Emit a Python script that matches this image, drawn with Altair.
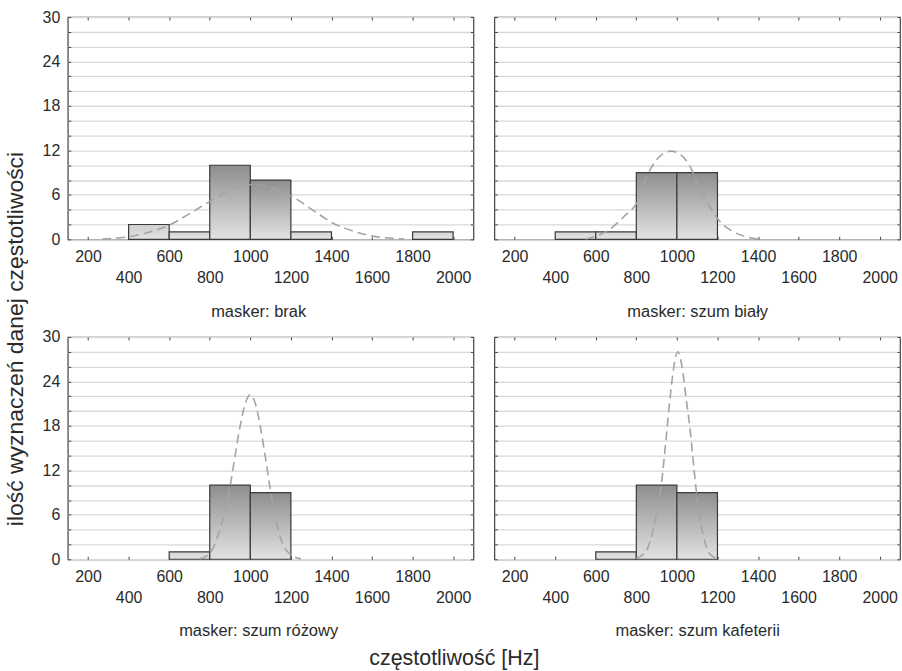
import altair as alt
import pandas as pd

# ---------------- data ----------------
bin_start = [200, 400, 600, 800, 1000, 1200, 1400, 1600, 1800]
bin_end = [400, 600, 800, 1000, 1200, 1400, 1600, 1800, 2000]

counts_brak = [0, 2, 1, 10, 8, 1, 0, 0, 1]
counts_bialy = [0, 1, 1, 9, 9, 0, 0, 0, 0]
counts_rozowy = [0, 0, 1, 10, 9, 0, 0, 0, 0]
counts_kafeteria = [0, 0, 1, 10, 9, 0, 0, 0, 0]

# fitted normal curves (dashed)
curve_brak_x = [270, 400, 500, 603, 690, 800, 904, 1020, 1085, 1204, 1316, 1406, 1514, 1612, 1760]
curve_brak_y = [0.05, 0.35, 0.95, 1.95, 3.3, 5.1, 6.7, 7.4, 7.1, 5.8, 3.8, 2.2, 1.05, 0.4, 0.05]

curve_bialy_x = [550, 674, 740, 801, 855, 905, 970, 1020, 1069, 1118, 1167, 1206, 1267, 1349, 1400]
curve_bialy_y = [0.05, 1.45, 3.1, 4.9, 8.7, 10.9, 11.9, 11.4, 9.6, 6.5, 4.2, 2.6, 1.2, 0.3, 0.05]

curve_rozowy_x = [750, 800, 850, 875, 900, 925, 950, 975, 1000, 1025, 1050, 1075, 1100, 1125, 1150, 1200, 1250]
curve_rozowy_y = [0.05, 0.8, 4.0, 6.5, 9.8, 14.0, 18.0, 21.0, 22.2, 21.0, 17.8, 13.6, 9.2, 5.5, 2.8, 0.6, 0.05]

curve_kafeteria_x = [800, 850, 880, 905, 925, 945, 965, 985, 1005, 1025, 1045, 1065, 1085, 1105, 1130, 1160, 1200]
curve_kafeteria_y = [0.1, 1.2, 3.6, 7.0, 10.5, 15.8, 21.4, 26.0, 28.0, 26.0, 21.8, 17.5, 12.0, 7.0, 3.2, 0.8, 0.05]

subtitles = ["masker: brak", "masker: szum biały", "masker: szum różowy", "masker: szum kafeterii"]
x_tick_values = [200, 400, 600, 800, 1000, 1200, 1400, 1600, 1800, 2000]
y_tick_values = list(range(0, 31, 2))
x_title = "częstotliwość [Hz]"
y_title = "ilość wyznaczeń danej częstotliwości"

# ---------------- styling ----------------
FONT = "Liberation Sans"
TXT = "#2a2a2a"
W, H = 407, 223


def grad(top):
    return {
        "gradient": "linear", "x1": 0, "y1": 0, "x2": 0, "y2": 1,
        "stops": [{"offset": 0, "color": top}, {"offset": 1, "color": "#e3e3e3"}],
    }


def panel(counts, cx, cy, subtitle, first_col):
    bars_df = pd.DataFrame({"start": bin_start, "end": bin_end, "count": counts})
    curve_df = pd.DataFrame({"x": cx, "y": cy})
    xscale = alt.Scale(domain=[100, 2100], nice=False, zero=False)
    yscale = alt.Scale(domain=[0, 30], nice=False)

    x_axis_kw = dict(
        values=x_tick_values, title=subtitle, grid=False, domain=False, format="d",
        offset=-3, tickSize=3, tickColor="#444", labelFont=FONT, labelFontSize=16,
        labelColor=TXT, labelOverlap=False, labelFlush=False,
        labelPadding={"condition": {"test": "datum.value % 400 == 0", "value": 30}, "value": 9},
        titleFont=FONT, titleFontSize=16.5, titleFontWeight="normal", titleColor=TXT,
        titlePadding=18,
    )
    if first_col:
        x_axis_kw["titleX"] = 191
    x_axis = alt.Axis(**x_axis_kw)

    y_axis = alt.Axis(
        values=y_tick_values, title=None, grid=True, gridColor="#d9d9d9", gridWidth=1.3,
        domain=False, offset=-3, tickSize=3, tickColor="#444",
        labels=first_col, labelExpr="datum.value % 6 == 0 ? datum.label : ''",
        labelFont=FONT, labelFontSize=16, labelColor=TXT, labelPadding=8,
    )
    x_axis_top = alt.Axis(orient="top", values=x_tick_values, title=None, labels=False,
                          grid=False, domain=False, offset=-3, tickSize=3, tickColor="#444")
    y_axis_right = alt.Axis(orient="right", values=y_tick_values, title=None, labels=False,
                            grid=False, domain=False, offset=-3, tickSize=3, tickColor="#444")

    fill = (
        alt.when("datum.count >= 5").then(alt.value(grad("#8e8e8e")))
        .when("datum.count >= 2").then(alt.value(grad("#cdcdcd")))
        .otherwise(alt.value(grad("#d6d6d6")))
    )

    bars = alt.Chart(bars_df).transform_filter("datum.count > 0").mark_rect(
        stroke="#3a3a3a", strokeWidth=1.2
    ).encode(
        x=alt.X("start:Q", scale=xscale, axis=x_axis),
        x2="end:Q",
        y=alt.Y("count:Q", scale=yscale, axis=y_axis),
        y2=alt.datum(0),
        fill=fill,
    )
    curve = alt.Chart(curve_df).mark_line(
        color="#a4a4a4", strokeDash=[9, 5], strokeWidth=1.6, interpolate="monotone"
    ).encode(
        x=alt.X("x:Q", scale=xscale, axis=x_axis_top),
        y=alt.Y("y:Q", scale=yscale, axis=y_axis_right),
    )
    return alt.layer(bars, curve).resolve_axis(x="independent", y="independent").properties(
        width=W, height=H
    )


p1 = panel(counts_brak, curve_brak_x, curve_brak_y, subtitles[0], True)
p2 = panel(counts_bialy, curve_bialy_x, curve_bialy_y, subtitles[1], False)
p3 = panel(counts_rozowy, curve_rozowy_x, curve_rozowy_y, subtitles[2], True)
p4 = panel(counts_kafeteria, curve_kafeteria_x, curve_kafeteria_y, subtitles[3], False)

row1 = alt.hconcat(p1, p2, spacing=17)
row2 = alt.hconcat(p3, p4, spacing=17)

inner = alt.vconcat(row1, row2, spacing=7).properties(
    title=alt.TitleParams(x_title, orient="bottom", anchor="middle", font=FONT, fontSize=21.5,
                          fontWeight="normal", color=TXT, offset=8, dx=-17)
)

chart = alt.hconcat(inner).properties(
    title=alt.TitleParams(y_title, orient="left", anchor="middle", font=FONT, fontSize=23,
                          fontWeight="normal", color=TXT, offset=14),
    padding={"left": 4, "top": 7, "right": 0, "bottom": 0},
).configure_view(stroke="#404040", strokeWidth=1.2).configure_concat(spacing=0)

chart.save("out.html", embed_options={"renderer": "svg", "actions": False})
